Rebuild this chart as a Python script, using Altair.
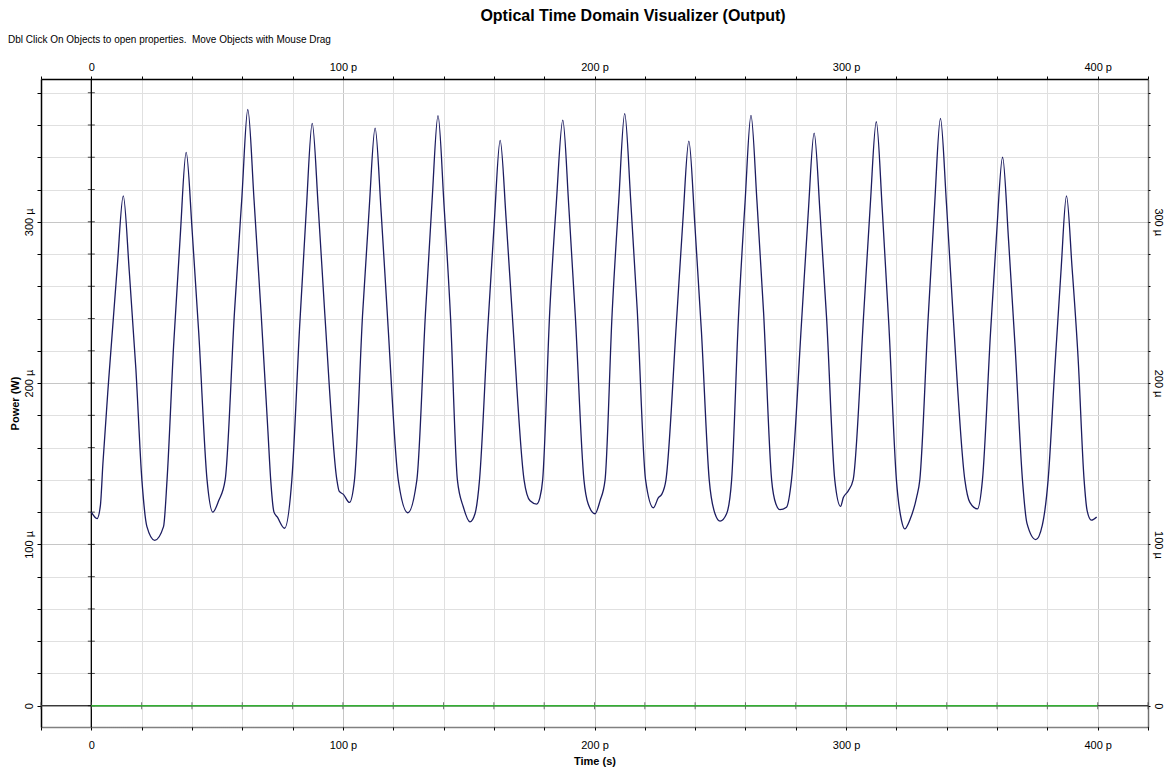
import altair as alt
import pandas as pd

# ---- data (time in ps, power in microwatts) ----
time_ps = [0.0, 2.3, 3.6, 4.6, 6.9, 10.3, 12.7, 15.1, 17.7, 20.1, 22.1, 25.2, 28.7, 30.1,
           32.7, 35.3, 37.7, 40.1, 42.7, 46.0, 48.3, 50.6, 53.2, 56.9, 59.8, 62.2, 64.7,
           67.5, 70.2, 71.3, 72.6, 73.9, 76.8, 79.7, 82.8, 85.4, 87.8, 90.2, 92.8, 97.6,
           98.5, 100.2, 102.6, 104.6, 107.8, 110.4, 112.8, 115.2, 117.8, 122.0, 125.8,
           129.4, 132.8, 135.4, 137.8, 140.2, 142.8, 145.5, 147.9, 150.5, 152.5, 154.3,
           157.5, 160.1, 162.5, 164.9, 167.5, 172.0, 174.4, 177.0, 178.3, 179.4, 182.2,
           184.8, 187.4, 189.8, 192.4, 195.8, 197.5, 200.2, 202.2, 204.2, 207.0, 209.6,
           212.0, 214.4, 217.0, 220.3, 223.4, 225.4, 226.7, 228.4, 232.5, 235.1, 237.5,
           239.9, 242.5, 245.6, 247.9, 249.9, 252.5, 254.5, 257.2, 259.8, 262.2, 264.6,
           267.2, 270.4, 272.1, 273.7, 276.3, 278.3, 282.3, 284.9, 287.3, 289.7, 292.3,
           295.5, 297.8, 298.9, 300.8, 302.8, 307.0, 309.6, 312.0, 314.4, 317.0, 320.0,
           322.0, 323.3, 325.3, 328.0, 329.3, 332.5, 335.1, 337.5, 339.9, 342.5, 347.2,
           349.2, 352.2, 354.2, 357.4, 359.8, 362.2, 364.6, 367.2, 370.1, 371.9, 375.4,
           378.0, 380.3, 383.0, 385.4, 387.6, 389.8, 392.2, 394.6, 395.8, 397.5, 399.6]
power_uw = [120, 116, 124, 150, 202, 272, 316, 269, 209, 140, 111, 102.5, 111, 140,
            223, 290, 343, 294, 231, 140, 120, 127, 140, 244, 314, 369.6, 313,
            243, 170, 140, 120, 117, 110, 140, 235, 306, 361, 309, 243, 140,
            133, 131, 126, 140, 242, 307, 358, 306, 239, 140, 119.6,
            140, 243, 312, 365.8, 310, 240, 140, 123, 114, 119, 140,
            232, 298, 350.5, 301, 238, 140, 127, 125, 129, 140, 244,
            311, 363, 309, 241, 140, 125, 119, 127, 140, 243, 312,
            367, 313, 245, 140, 122.7, 129, 131, 140, 236, 300, 350,
            298, 232, 140, 119, 114.4, 119, 140, 240, 311, 366, 312,
            244, 140, 125, 121.5, 123, 140, 238, 304, 355, 304, 239,
            140, 123.6, 129, 133, 140, 243, 310, 362, 307, 236, 140,
            115, 109.6, 115, 129, 140, 237, 308, 364, 311, 243, 140,
            126, 122, 140, 231, 292, 340, 288, 222, 140, 113, 103,
            112, 140, 210, 269, 316, 272, 216, 140, 121, 115, 117]

zero_time_ps = [0, 400]
zero_power_uw = [0, 0]

x_tick_values = list(range(-20, 421, 20))
y_tick_values = list(range(0, 381, 20))
x_domain = [-20, 420]
y_domain = [-13.2, 388.5]

title_text = "Optical Time Domain Visualizer (Output)"
subtitle_text = "Dbl Click On Objects to open properties.\u00a0 Move Objects with Mouse Drag"

FONT = "Liberation Sans"
W, H = 1107, 648

xs = alt.Scale(domain=x_domain, nice=False, zero=False)
ys = alt.Scale(domain=y_domain, nice=False, zero=False)

x_label_expr = "datum.value % 100 === 0 ? (datum.value === 0 ? '0' : datum.value + ' p') : ''"
y_label_expr = "datum.value % 100 === 0 ? (datum.value === 0 ? '0' : datum.value + ' µ') : ''"
grid_color = {"condition": {"test": "datum.value % 100 === 0", "value": "#c6c6c6"},
              "value": "#e0e0e0"}

curve_df = pd.DataFrame({"t": time_ps, "p": power_uw})
zero_df = pd.DataFrame({"t": zero_time_ps, "p": zero_power_uw})

curve = alt.Chart(curve_df).mark_line(
    color="#1c1c60", strokeWidth=1.3, interpolate="monotone"
).encode(
    x=alt.X("t:Q", scale=xs, axis=alt.Axis(
        orient="bottom", values=x_tick_values, labelExpr=x_label_expr, labelOverlap=False,
        grid=True, gridColor=grid_color, gridWidth=1,
        domainColor="black", domainDash=[1, 1], domainWidth=1.5,
        tickColor="black", tickSize=3, labelPadding=9, labelFontSize=11,
        title="Time (s)", titleFontWeight="bold", titleFontSize=11, titlePadding=5)),
    y=alt.Y("p:Q", scale=ys, axis=alt.Axis(
        orient="left", values=y_tick_values, labelExpr=y_label_expr, labelOverlap=False,
        grid=True, gridColor=grid_color, gridWidth=1,
        domainColor="black", domainWidth=1.5, tickColor="black", tickSize=4,
        labelAngle=270, labelAlign="center", labelBaseline="bottom", labelPadding=3,
        labelFontSize=11,
        title="Power (W)", titleFontWeight="bold", titleFontSize=11, titlePadding=3)),
)

green = alt.Chart(zero_df).mark_line(color="#33b033", strokeWidth=1.5).encode(
    x=alt.X("t:Q", scale=xs, axis=alt.Axis(
        orient="top", values=x_tick_values, labelExpr=x_label_expr, labelOverlap=False,
        grid=False, domainColor="black", domainWidth=1.5, tickColor="black", tickSize=3,
        labelPadding=4, labelFontSize=11, title=None)),
    y=alt.Y("p:Q", scale=ys, axis=alt.Axis(
        orient="right", values=y_tick_values, labelExpr=y_label_expr, labelOverlap=False,
        grid=False, domainColor="black", domainDash=[1, 1], domainWidth=1.5,
        tickColor="black", tickSize=2,
        labelAngle=90, labelAlign="center", labelBaseline="bottom", labelPadding=2,
        labelFontSize=11, title=None)),
)

vline = alt.Chart(pd.DataFrame({"t": [0]})).mark_rule(color="black", strokeWidth=1.3).encode(
    x=alt.X("t:Q", scale=xs, axis=None))
hline = alt.Chart(pd.DataFrame({"p": [0]})).mark_rule(color="#3a3a3a", strokeWidth=1.3).encode(
    y=alt.Y("p:Q", scale=ys, axis=None))

vticks = alt.Chart(pd.DataFrame({"t": [0] * len(y_tick_values), "p": y_tick_values})).mark_tick(
    orient="horizontal", size=7, thickness=1, color="black").encode(
    x=alt.X("t:Q", scale=xs, axis=None), y=alt.Y("p:Q", scale=ys, axis=None))
hticks = alt.Chart(pd.DataFrame({"t": x_tick_values, "p": [0] * len(x_tick_values)})).mark_tick(
    orient="vertical", size=7, thickness=1, color="#3a3a3a").encode(
    x=alt.X("t:Q", scale=xs, axis=None), y=alt.Y("p:Q", scale=ys, axis=None))

title = alt.Chart(pd.DataFrame({"s": [title_text]})).mark_text(
    font=FONT, fontSize=16, fontWeight="bold", align="center", baseline="middle", color="black"
).encode(x=alt.value(592), y=alt.value(-63), text="s:N")
subtitle = alt.Chart(pd.DataFrame({"s": [subtitle_text]})).mark_text(
    font=FONT, fontSize=10, align="left", baseline="middle", color="black"
).encode(x=alt.value(-33), y=alt.value(-39), text="s:N")

chart = alt.layer(
    hline, vline, vticks, hticks, curve, green, title, subtitle
).properties(
    width=W, height=H,
    autosize=alt.AutoSizeParams(type="none"),
    padding={"left": 41, "top": 79, "right": 17, "bottom": 47},
    background="white",
).configure_view(strokeWidth=0).configure_axis(
    labelFont=FONT, titleFont=FONT, labelColor="black", titleColor="black"
)

chart.save("out.html", embed_options={"renderer": "svg", "actions": False})
